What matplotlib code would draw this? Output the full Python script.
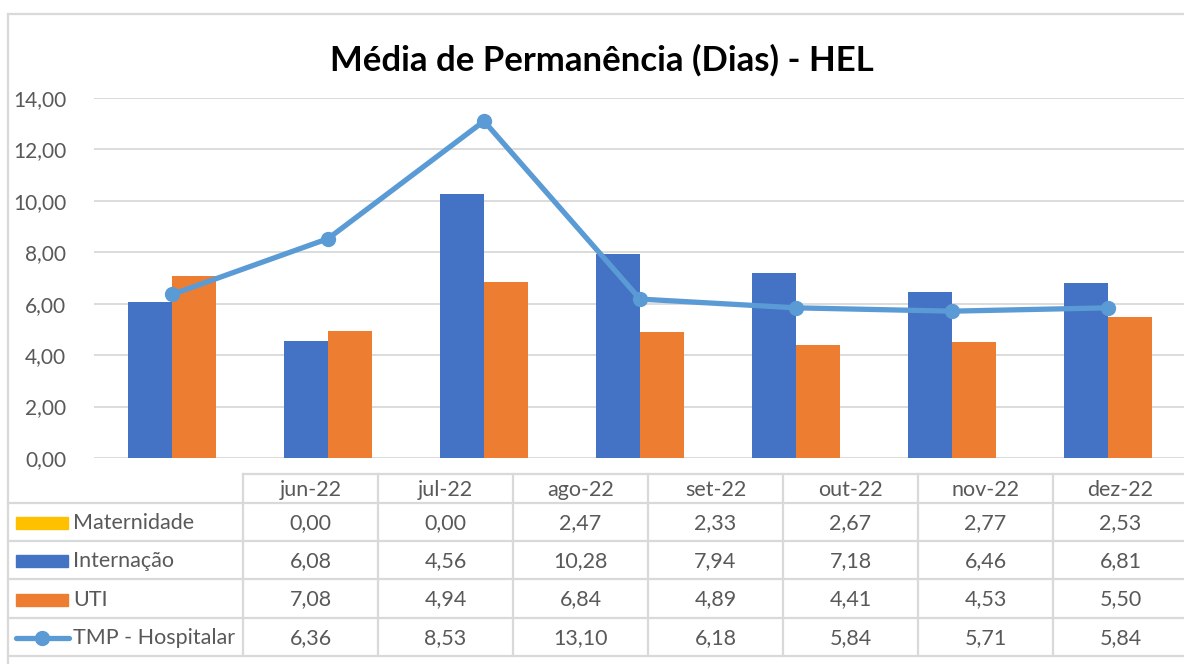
import matplotlib
matplotlib.use("Agg")
import matplotlib.pyplot as plt
from matplotlib.lines import Line2D
from matplotlib.patches import Rectangle

categories = ["jun-22", "jul-22", "ago-22", "set-22", "out-22", "nov-22", "dez-22"]
maternidade = [0.00, 0.00, 2.47, 2.33, 2.67, 2.77, 2.53]
internacao = [6.08, 4.56, 10.28, 7.94, 7.18, 6.46, 6.81]
uti = [7.08, 4.94, 6.84, 4.89, 4.41, 4.53, 5.50]
tmp = [6.36, 8.53, 13.10, 6.18, 5.84, 5.71, 5.84]
series_names = ["Maternidade", "Internação", "UTI", "TMP - Hospitalar"]
yticks = [0, 2, 4, 6, 8, 10, 12, 14]

C_MAT = "#FFC000"
C_INT = "#4472C4"
C_UTI = "#ED7D31"
C_TMP = "#5B9BD5"
GRID = "#D9D9D9"
TXT = "#595959"

FONT = "Lato"
FS = 15.5
W, H = 1184, 664
fig = plt.figure(figsize=(W / 100, H / 100), dpi=100)

def fx(px):
    return px / W

def fy(py):
    return (H - py) / H

# plot axes
left, right, top, bottom = 94, 1186, 98, 458
ax = fig.add_axes([fx(left), fy(bottom), fx(right - left), (bottom - top) / H])
x = list(range(len(categories)))
bw = 44 / 156
ax.bar([i - bw / 2 for i in x], internacao, width=bw, color=C_INT, zorder=2)
ax.bar([i + bw / 2 for i in x], uti, width=bw, color=C_UTI, zorder=2)
ax.plot(x, tmp, color=C_TMP, lw=3.8, marker="o", markersize=10, zorder=3,
        solid_capstyle="round")
ax.set_xlim(-0.5, len(categories) - 0.5)
ax.set_ylim(0, 14)
ax.set_yticks(yticks)
for t in yticks:
    ax.axhline(t, color=GRID, lw=1.3, zorder=1)
ax.set_yticklabels([f"{t:.2f}".replace(".", ",") for t in yticks],
                   fontsize=15, color=TXT, family=FONT)
ax.tick_params(axis="y", length=0, pad=20)
ax.tick_params(axis="x", length=0, labelbottom=False)
for s in ax.spines.values():
    s.set_visible(False)
ax.set_facecolor("none")

# overlay for table and frame
ov = fig.add_axes([0, 0, 1, 1], zorder=-1)
ov.set_xlim(0, W)
ov.set_ylim(H, 0)
ov.axis("off")

def hline(y, x0, x1):
    ov.add_line(Line2D([x0, x1], [y, y], color=GRID, lw=1.6))

def vline(xp, y0, y1):
    ov.add_line(Line2D([xp, xp], [y0, y1], color=GRID, lw=1.6))

# chart outer frame
hline(14, 8, W)
vline(8, 14, H)

# title
ov.text(602, 60, "Média de Permanência (Dias) - HEL", ha="center", va="center",
        fontsize=25, fontweight="bold", color="black", family=FONT)

# table grid
col0 = 243
colw = 135
row_y = [474, 503, 541, 579, 618, 656]
hline(row_y[0], col0, W)
for yy in row_y[1:]:
    hline(yy, 8, W)
for i in range(len(categories) + 1):
    vline(col0 + i * colw, row_y[0], row_y[-1])

# header
for i, c in enumerate(categories):
    ov.text(col0 + i * colw + colw / 2, (row_y[0] + row_y[1]) / 2 + 1, c,
            ha="center", va="center", fontsize=FS, color=TXT, family=FONT)

rows = [maternidade, internacao, uti, tmp]
for r, (name, vals) in enumerate(zip(series_names, rows)):
    yc = (row_y[r + 1] + row_y[r + 2]) / 2 + 1
    if r == 0:
        ov.add_patch(Rectangle((16, yc - 6), 52, 12, color=C_MAT))
    elif r == 1:
        ov.add_patch(Rectangle((16, yc - 6), 52, 12, color=C_INT))
    elif r == 2:
        ov.add_patch(Rectangle((16, yc - 6), 52, 12, color=C_UTI))
    else:
        ov.add_line(Line2D([16, 69], [yc, yc], color=C_TMP, lw=3.8,
                           solid_capstyle="round"))
        ov.plot([42], [yc], marker="o", markersize=10, color=C_TMP)
    ov.text(73, yc, name, ha="left", va="center", fontsize=FS, color=TXT,
            family=FONT)
    for i, v in enumerate(vals):
        ov.text(col0 + i * colw + colw / 2, yc, f"{v:.2f}".replace(".", ","),
                ha="center", va="center", fontsize=FS, color=TXT, family=FONT)

fig.savefig("out.png", dpi=100, facecolor="white")
